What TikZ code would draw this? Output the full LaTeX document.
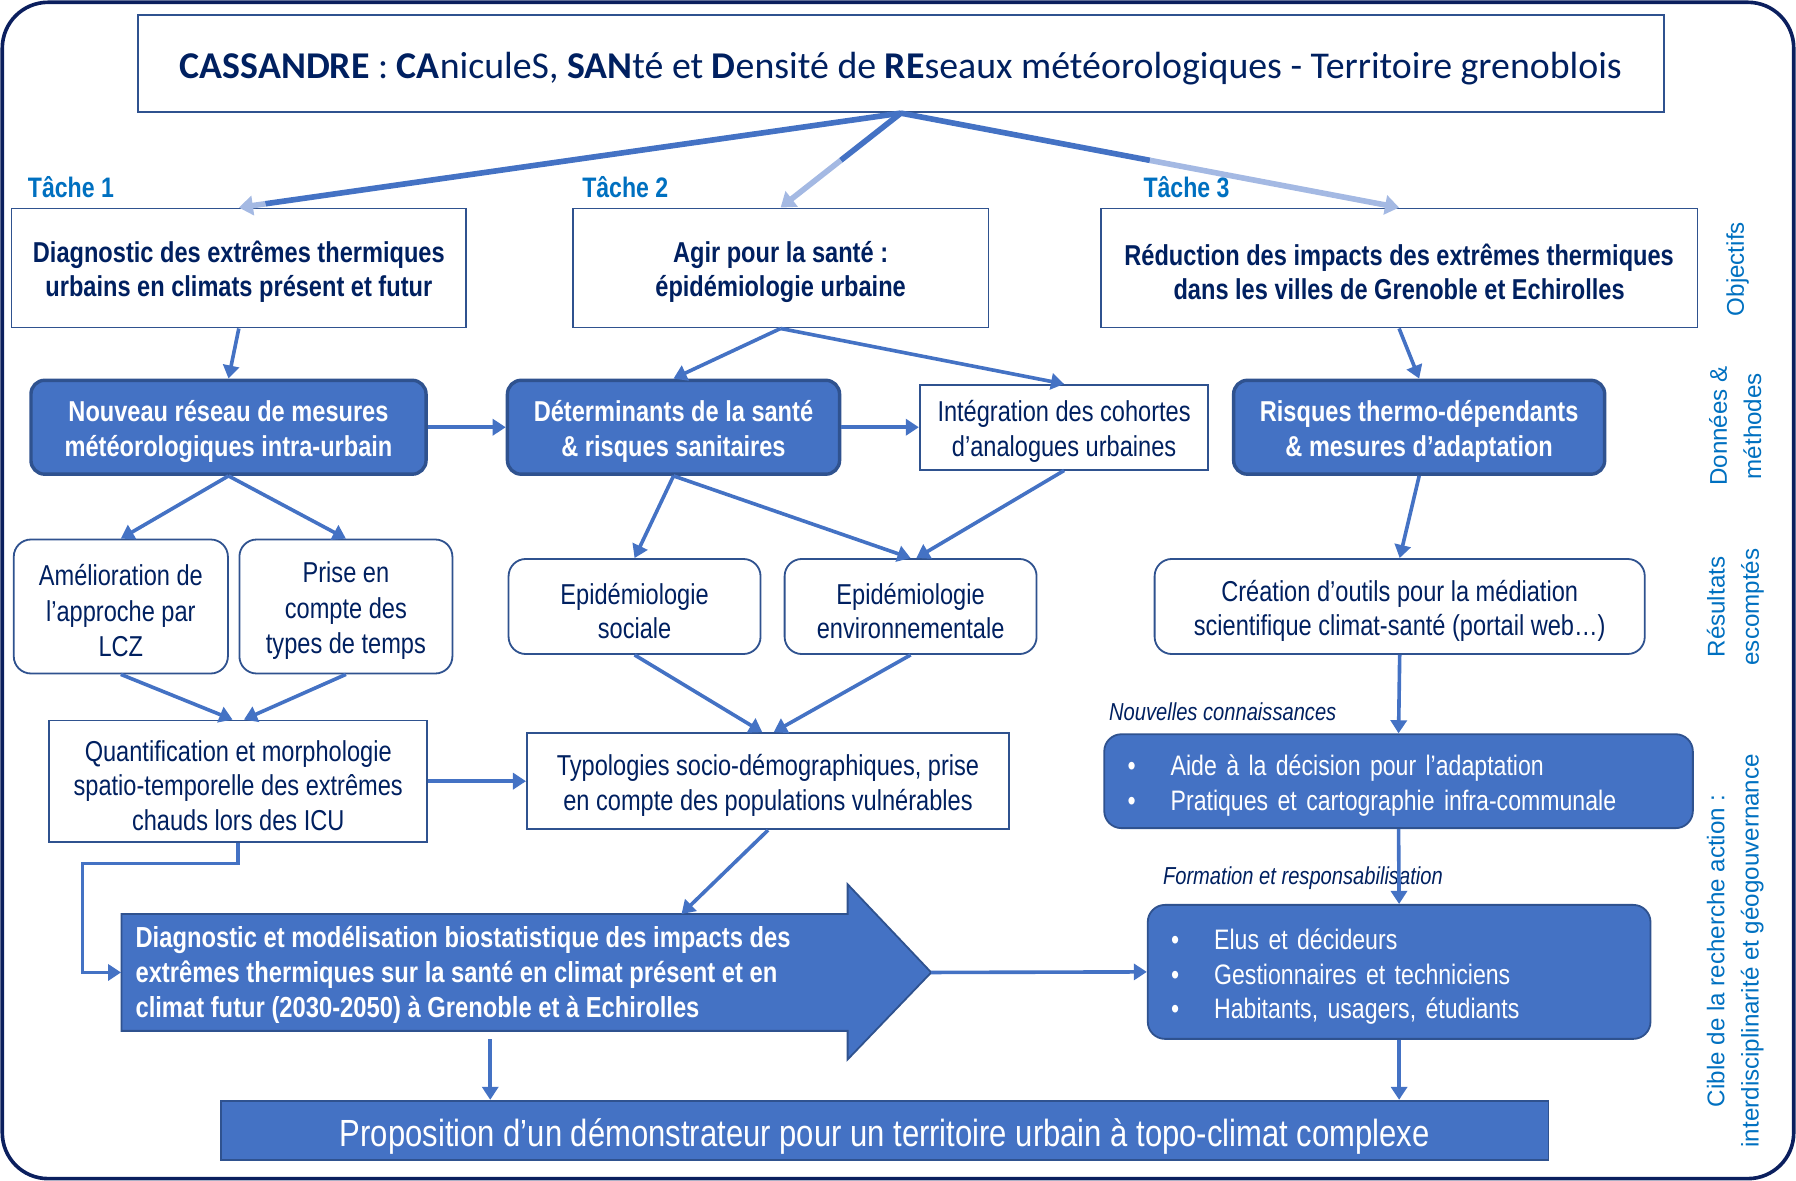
\documentclass[tikz,border=0pt]{standalone}
\usepackage{fontspec}
\setmainfont{Liberation Sans}
\newfontfamily\narrow[FakeStretch=0.82]{Liberation Sans}
\newfontfamily\calib{Carlito}
\usetikzlibrary{arrows.meta,calc}
\definecolor{navy}{HTML}{002060}
\definecolor{frame}{HTML}{0B1F5E}
\definecolor{fillb}{HTML}{4472C4}
\definecolor{bord}{HTML}{2F528F}
\definecolor{lightb}{HTML}{A4B9E3}
\definecolor{sideb}{HTML}{0070C0}
\newcommand\tstrut{\rule{0pt}{14.7pt}}
\begin{document}
\begin{tikzpicture}[x=0.02cm,y=-0.02cm,
  topstrut/.style={execute at begin node={\rule{0pt}{#1}}},
  wbox/.style={draw=bord, line width=0.9pt, fill=white, text=navy, align=center, inner sep=2pt,
     font=\narrow\fontsize{14.3}{17}\selectfont},
  wboxb/.style={wbox, font=\narrow\bfseries\fontsize{14.3}{17}\selectfont},
  rbox/.style={wbox, rounded corners=0.3cm},
  bluebox/.style={draw=bord, line width=1.7pt, fill=fillb, text=white, align=center, inner sep=2pt,
     rounded corners=0.24cm, font=\narrow\bfseries\fontsize{14.3}{17}\selectfont},
  listbox/.style={draw=bord, line width=0.9pt, fill=fillb, text=white, align=left, inner xsep=0.36cm,
     rounded corners=0.3cm, font=\narrow\fontsize{14}{17.3}\selectfont, topstrut=15pt},
  arr/.style={draw=fillb, line width=1.8pt, -{Triangle[length=6.5pt,width=8pt]}},
  topline/.style={draw=fillb, line width=2.8pt},
  toparr/.style={draw=lightb, line width=2.8pt, -{Triangle[length=7pt,width=9.5pt]}},
  tache/.style={text=sideb, anchor=west, inner sep=0pt, font=\narrow\bfseries\fontsize{14}{16}\selectfont},
  side/.style={text=sideb, rotate=90, align=center, inner sep=0pt, font=\fontsize{12}{17}\selectfont},
  lbl/.style={text=navy, anchor=west, inner sep=0pt, font=\narrow\itshape\fontsize{12.2}{14}\selectfont}
]
\useasboundingbox (0,0) rectangle (1568,1031);
\draw[frame, line width=1.8pt, rounded corners=0.8cm] (2,2) rectangle (1566,1029);

% title
\node[wbox, font=\calib\fontsize{18.8}{22}\selectfont, topstrut=18.5pt, minimum width=26.66cm, minimum height=1.70cm] (title) at (786.5,55.5)
  {\textbf{CASSANDRE} : \textbf{CA}niculeS, \textbf{SAN}té et \textbf{D}ensité de \textbf{RE}seaux météorologiques - Territoire grenoblois};

% task labels
\node[tache] (ta1) at (24,163) {Tâche 1};
\node[tache] (ta2) at (508,163) {Tâche 2};
\node[tache] (ta3) at (998,163) {Tâche 3};

% objectives
\node[wboxb, minimum width=7.94cm, minimum height=2.08cm] (t1) at (208.5,234) {\tstrut Diagnostic des extrêmes thermiques\\urbains en climats présent et futur};
\node[wboxb, minimum width=7.26cm, minimum height=2.08cm] (t2) at (681.5,234) {\tstrut Agir pour la santé :\\épidémiologie urbaine};
\node[wboxb, minimum width=10.42cm, minimum height=2.08cm] (t3) at (1221.5,234) {\tstrut Réduction des impacts des extrêmes thermiques\\dans les villes de Grenoble et Echirolles};

% row 2
\node[bluebox, minimum width=6.90cm, minimum height=1.64cm] (A) at (199.5,373) {\tstrut Nouveau réseau de mesures\\météorologiques intra-urbain};
\node[bluebox, minimum width=5.80cm, minimum height=1.64cm] (B) at (588,373) {\tstrut Déterminants de la santé\\\& risques sanitaires};
\node[wbox, minimum width=5.04cm, minimum height=1.48cm] (C) at (929,373) {\tstrut Intégration des cohortes\\d’analogues urbaines};
\node[bluebox, minimum width=6.48cm, minimum height=1.64cm] (D) at (1239,373) {\tstrut Risques thermo-dépendants\\\& mesures d’adaptation};

% row 3
\node[rbox, minimum width=3.74cm, minimum height=2.34cm, font=\narrow\fontsize{14.3}{17.6}\selectfont] (E) at (105.5,529.5) {\tstrut Amélioration de\\l’approche par\\LCZ};
\node[rbox, minimum width=3.72cm, minimum height=2.34cm, font=\narrow\fontsize{14.3}{17.6}\selectfont] (F) at (302,529.5) {\tstrut Prise en\\compte des\\types de temps};
\node[rbox, minimum width=4.40cm, minimum height=1.66cm] (G) at (554,529.5) {\tstrut Epidémiologie\\sociale};
\node[rbox, minimum width=4.40cm, minimum height=1.66cm] (H) at (795,529.5) {\tstrut Epidémiologie\\environnementale};
\node[rbox, minimum width=8.56cm, minimum height=1.66cm] (I) at (1222,529.5) {\tstrut Création d’outils pour la médiation\\scientifique climat-santé (portail web…)};

% row 4
\node[wbox, minimum width=6.60cm, minimum height=2.12cm] (J) at (208,682) {\tstrut Quantification et morphologie\\spatio-temporelle des extrêmes\\chauds lors des ICU};
\node[wbox, minimum width=8.42cm, minimum height=1.68cm] (K) at (670.5,682) {\tstrut Typologies socio-démographiques, prise\\en compte des populations vulnérables};
\node[lbl] (lab1) at (968,621) {Nouvelles connaissances};
\node[listbox, text width=9.56cm, minimum width=10.28cm, minimum height=1.64cm] (L) at (1221,682)
  {\makebox[0.8cm][l]{\hspace{0.05cm}•}Aide à la décision pour l’adaptation\\\makebox[0.8cm][l]{\hspace{0.05cm}•}Pratiques et cartographie infra-communale};

% row 5 : big arrow
\draw[fill=fillb, draw=bord, line width=0.9pt] (106,798) -- (740,798) -- (740,772) -- (813,849) -- (740,925) -- (740,900) -- (106,900) -- cycle;
\node[minimum width=12.68cm, minimum height=2.04cm, inner sep=0pt] (M) at (423,849) {};
\coordinate (Mtip) at (813,849);
\coordinate (Mtop) at (595,798);
\node[anchor=west, align=left, text=white, inner sep=0pt, font=\narrow\bfseries\fontsize{14.4}{17.3}\selectfont] (Mtext) at (118,851)
  {Diagnostic et modélisation biostatistique des impacts des\\extrêmes thermiques sur la santé en climat présent et en\\climat futur (2030-2050) à Grenoble et à Echirolles};
\node[lbl] (lab2) at (1015,767) {Formation et responsabilisation};
\node[listbox, text width=8.06cm, minimum width=8.78cm, minimum height=2.34cm, inner xsep=0.36cm] (N) at (1221.5,848.5)
  {\makebox[0.8cm][l]{\hspace{0.05cm}•}Elus et décideurs\\\makebox[0.8cm][l]{\hspace{0.05cm}•}Gestionnaires et techniciens\\\makebox[0.8cm][l]{\hspace{0.05cm}•}Habitants, usagers, étudiants};

% row 6
\node[draw=bord, line width=0.9pt, fill=fillb, text=white, minimum width=23.18cm, minimum height=1.04cm, inner sep=0pt,
  font=\narrow\fontsize{18.8}{21}\selectfont, topstrut=20pt] (O) at (772.5,987) {Proposition d’un démonstrateur pour un territoire urbain à topo-climat complexe};

% side labels
\node[side] (s1) at (1517,235) {Objectifs};
\node[side] (s2) at (1515,372) {Données \&\\méthodes};
\node[side] (s3) at (1515,530) {Résultats\\escomptés};
\node[side] (s4) at (1515,830) {Cible de la recherche action :\\interdisciplinarité et géogouvernance};

% top arrows
\draw[topline] (title.south) -- ($(title.south)!0.96!(t1.north)$) coordinate (m1);
\draw[toparr] (m1) -- (t1.north);
\draw[topline] (title.south) -- ($(title.south)!0.5!(t2.north)$) coordinate (m2);
\draw[toparr] (m2) -- (t2.north);
\draw[topline] (title.south) -- ($(title.south)!0.5!(t3.north)$) coordinate (m3);
\draw[toparr] (m3) -- (t3.north);

% other arrows
\draw[arr] (t1.south) -- (A.north);
\draw[arr] (t2.south) -- (B.north);
\draw[arr] (t2.south) -- (C.north);
\draw[arr] (t3.south) -- (D.north);
\draw[arr] (A.east) -- (B.west);
\draw[arr] (B.east) -- (C.west);
\draw[arr] (A.south) -- (E.north);
\draw[arr] (A.south) -- (F.north);
\draw[arr] (B.south) -- (G.north);
\draw[arr] (B.south) -- (H.north);
\draw[arr] (C.south) -- ([xshift=0.1cm]H.north);
\draw[arr] (D.south) -- (I.north);
\draw[arr] (E.south) -- ([xshift=-0.1cm]J.north);
\draw[arr] (F.south) -- ([xshift=0.1cm]J.north);
\draw[arr] (G.south) -- ([xshift=-0.1cm]K.north);
\draw[arr] (H.south) -- ([xshift=0.1cm]K.north);
\draw[arr] (I.south) -- (L.north);
\draw[arr] (J.east) -- (K.west);
\draw[arr] (J.south) -- ++(0,18) -| (72,849) -- (M.west);
\draw[arr] (K.south) -- (Mtop);
\draw[arr] (L.south) -- (N.north);
\draw[arr] (Mtip) -- (N.west);
\draw[arr] ([xshift=0.1cm,yshift=-0.14cm]M.south) -- ([xshift=0.1cm]M.south |- O.north);
\draw[arr] (N.south) -- (N.south |- O.north);
\end{tikzpicture}
\end{document}
